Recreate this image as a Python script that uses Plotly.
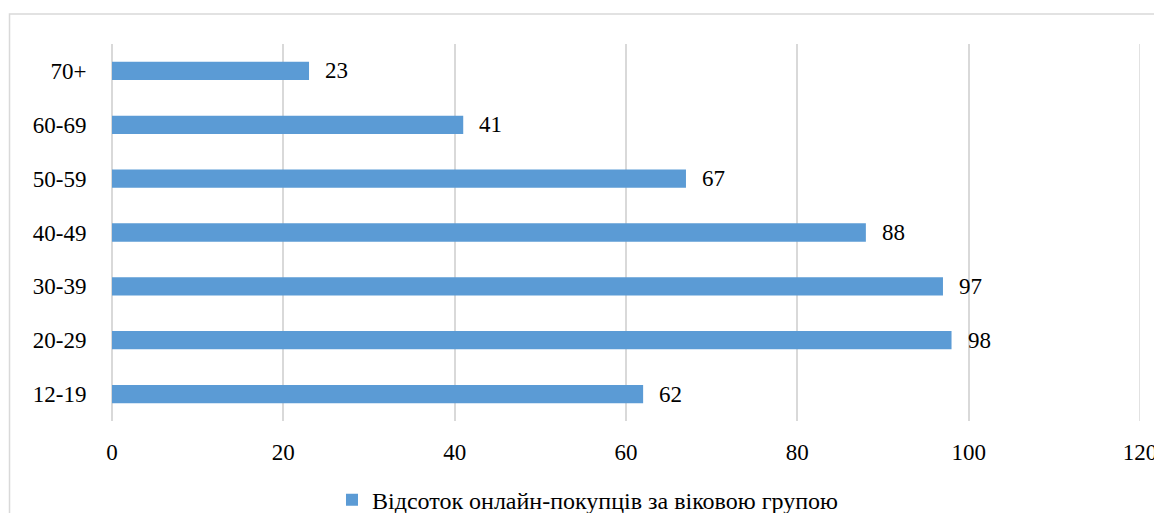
import plotly.graph_objects as go

categories = ["12-19", "20-29", "30-39", "40-49", "50-59", "60-69", "70+"]
values = [62, 98, 97, 88, 67, 41, 23]
x_ticks = [0, 20, 40, 60, 80, 100, 120]
series_name = "Відсоток онлайн-покупців за віковою групою"

FONT = "'Liberation Serif', 'DejaVu Serif', 'Times New Roman', serif"
BAR = "#5B9BD5"
GRID = "#D9D9D9"

fig = go.Figure()
fig.add_trace(go.Bar(
    y=categories, x=values, orientation="h", name=series_name,
    marker=dict(color=BAR, line=dict(width=0)), width=0.34,
    showlegend=True,
))

for c, v in zip(categories, values):
    fig.add_annotation(x=v, y=c, text=str(v), showarrow=False, xanchor="left",
                       xshift=14, font=dict(family=FONT, size=23, color="black"))

# last gridline (plotly clips gridlines at the range end)
fig.add_shape(type="line", xref="x", yref="paper", x0=x_ticks[-1], x1=x_ticks[-1], y0=0, y1=1,
              line=dict(color=GRID, width=1.5), layer="below")

fig.add_shape(type="rect", xref="paper", yref="paper",
              x0=-0.0997, x1=1.2, y0=-0.4, y1=1.0796,
              line=dict(color=GRID, width=1.5), fillcolor="rgba(0,0,0,0)", layer="below")

fig.update_layout(
    width=1154, height=513,
    margin=dict(l=112, r=14, t=44, b=92, pad=0, autoexpand=False),
    paper_bgcolor="white", plot_bgcolor="white",
    font=dict(family=FONT, size=23, color="black"),
    bargap=0.66,
    showlegend=True,
    legend=dict(orientation="h", x=0.214, xanchor="left", yref="container", y=0.025, yanchor="middle",
                font=dict(family=FONT, size=24, color="black"),
                bgcolor="rgba(0,0,0,0)"),
    xaxis=dict(range=[0, 120], tickvals=x_ticks, showgrid=True, gridcolor=GRID, gridwidth=1.5,
               zeroline=True, zerolinecolor=GRID, zerolinewidth=1.5, showline=False,
               ticks="outside", ticklen=10, tickcolor="rgba(0,0,0,0)",
               ticklabeloverflow="allow",
               tickfont=dict(family=FONT, size=23), fixedrange=True, automargin=False),
    yaxis=dict(categoryorder="array", categoryarray=categories, range=[-0.5, 6.5],
               showgrid=False, zeroline=False, showline=False,
               ticks="outside", ticklen=20, tickcolor="rgba(0,0,0,0)",
               tickfont=dict(family=FONT, size=23), fixedrange=True, automargin=False),
)

fig.write_html("out.html")
